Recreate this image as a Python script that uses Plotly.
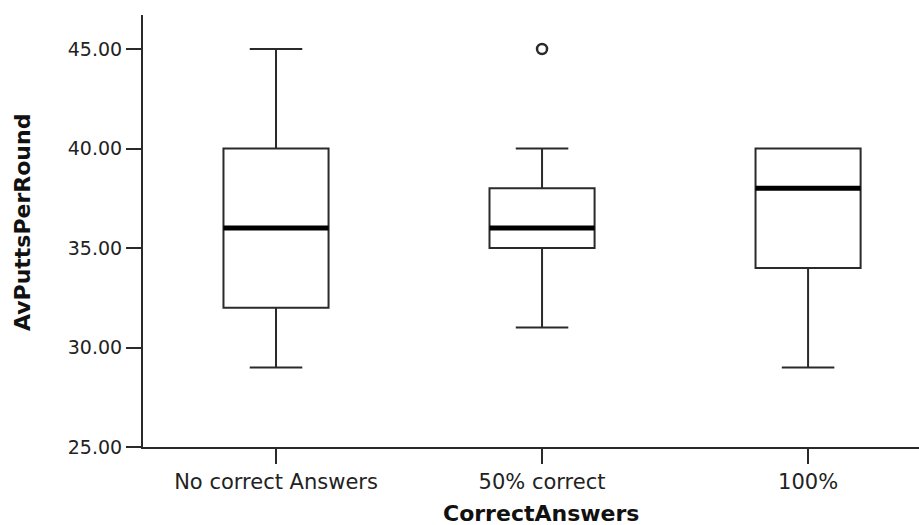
import plotly.graph_objects as go

# Categories and five-number summaries of average putts per round
categories = ["No correct Answers", "50% correct", "100%"]
lower_whisker = [29.0, 31.0, 29.0]
q1 = [32.0, 35.0, 34.0]
median = [36.0, 36.0, 38.0]
q3 = [40.0, 38.0, 40.0]
upper_whisker = [45.0, 40.0, 40.0]

# Outlying observations (category index, value)
outlier_group = [1]
outlier_value = [45.0]

y_ticks = [25, 30, 35, 40, 45]

positions = list(range(len(categories)))
box_width = 0.395
line_col = "#2a2a2a"

fig = go.Figure()

fig.add_trace(go.Box(
    x=positions,
    q1=q1,
    median=median,
    q3=q3,
    lowerfence=lower_whisker,
    upperfence=upper_whisker,
    width=box_width,
    whiskerwidth=0.5,
    boxpoints=False,
    fillcolor="white",
    line=dict(color=line_col, width=2),
    showlegend=False,
    hoverinfo="skip",
))

# Heavy median bars drawn over each box
for i, m in zip(positions, median):
    fig.add_trace(go.Scatter(
        x=[i - box_width / 2, i + box_width / 2],
        y=[m, m],
        mode="lines",
        line=dict(color="black", width=5),
        showlegend=False,
        hoverinfo="skip",
    ))

fig.add_trace(go.Scatter(
    x=outlier_group,
    y=outlier_value,
    mode="markers",
    marker=dict(symbol="circle-open", size=10, color=line_col, line=dict(width=2.5)),
    showlegend=False,
    hoverinfo="skip",
))

tick_font = dict(family="DejaVu Sans", size=19, color="#222222")

fig.update_xaxes(
    range=[-0.5, 2.417],
    tickmode="array",
    tickvals=positions,
    ticktext=categories,
    tickfont=dict(family="DejaVu Sans", size=21, color="#222222"),
    showline=True,
    linecolor=line_col,
    linewidth=2,
    ticks="outside",
    ticklen=15,
    tickwidth=2,
    tickcolor=line_col,
    showgrid=False,
    zeroline=False,
)
fig.update_yaxes(
    range=[25, 46.71],
    tickmode="array",
    tickvals=y_ticks,
    ticktext=[f"{v:.2f}" for v in y_ticks],
    tickfont=tick_font,
    showline=True,
    linecolor=line_col,
    linewidth=2,
    ticks="outside",
    ticklen=15,
    tickwidth=2,
    tickcolor=line_col,
    showgrid=False,
    zeroline=False,
)

title_font = dict(family="DejaVu Sans", size=22, color="#111111")
fig.add_annotation(
    text="<b>CorrectAnswers</b>", xref="paper", yref="paper",
    x=0.513, y=-0.155, showarrow=False, font=title_font,
    xanchor="center", yanchor="middle",
)
fig.add_annotation(
    text="<b>AvPuttsPerRound</b>", xref="paper", yref="paper",
    x=-0.155, y=0.52, showarrow=False, font=title_font, textangle=-90,
    xanchor="center", yanchor="middle",
)

fig.update_layout(
    width=919,
    height=525,
    margin=dict(l=143, r=0, t=15, b=78),
    paper_bgcolor="white",
    plot_bgcolor="white",
)

fig.write_html("out.html")
